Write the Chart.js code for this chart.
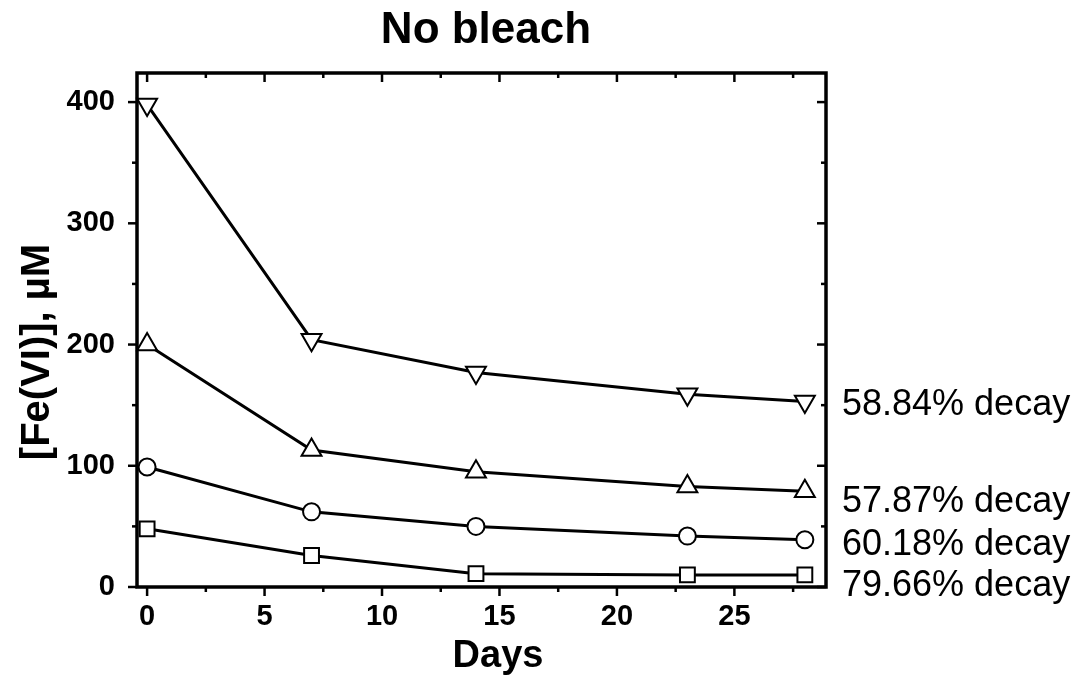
<!DOCTYPE html>
<html>
<head>
<meta charset="utf-8">
<script src="https://cdn.jsdelivr.net/npm/chart.js@4/dist/chart.umd.min.js"></script>
<style>
  html, body { margin: 0; padding: 0; background: #fff; }
  #wrap { width: 1083px; height: 683px; }
</style>
</head>
<body>
<div id="wrap"><canvas id="grafico"></canvas></div>
<script>
// dados
const dias = [0, 7, 14, 23, 28];
const serie400 = [398, 204, 177, 159, 153];
const serie200 = [200, 113, 95, 83, 79];
const serie100 = [99, 62, 50, 42, 39];
const serie50 = [48, 26, 11, 10, 10];
const rotulosDecaimento = ["58.84% decay", "57.87% decay", "60.18% decay", "79.66% decay"];
const ticksX = [0, 5, 10, 15, 20, 25];
const ticksY = [0, 100, 200, 300, 400];
const minorX = [2.5, 7.5, 12.5, 17.5, 22.5, 27.5];
const minorY = [50, 150, 250, 350];

const FAMILIA = '"Liberation Sans", Arial, sans-serif';
const pares = (ys) => dias.map((d, i) => ({ x: d, y: ys[i] }));

function serie(dados, forma, raio, rot) {
  return {
    data: pares(dados),
    borderColor: '#000',
    borderWidth: 3,
    pointStyle: forma,
    pointRadius: raio,
    pointRotation: rot || 0,
    pointBackgroundColor: '#fff',
    pointBorderColor: '#000',
    pointBorderWidth: 2,
    tension: 0,
    clip: false
  };
}

// moldura + ticks estilo Origin, textos (título, eixos, rótulos da direita)
const moldura = {
  id: 'moldura',
  afterDraw(chart) {
    const { ctx, chartArea: a, scales: { x, y } } = chart;
    ctx.save();
    ctx.strokeStyle = '#000';
    ctx.lineWidth = 3.5;
    ctx.strokeRect(a.left, a.top, a.right - a.left, a.bottom - a.top);

    ctx.lineWidth = 2.5;
    const tick = (x1, y1, x2, y2) => { ctx.beginPath(); ctx.moveTo(x1, y1); ctx.lineTo(x2, y2); ctx.stroke(); };
    ticksX.forEach(v => { const px = x.getPixelForValue(v); tick(px, a.bottom, px, a.bottom + 9); tick(px, a.top, px, a.top + 9); });
    minorX.forEach(v => { const px = x.getPixelForValue(v); tick(px, a.bottom, px, a.bottom + 5); tick(px, a.top, px, a.top + 5); });
    ticksY.forEach(v => { const py = y.getPixelForValue(v); tick(a.left, py, a.left - 9, py); tick(a.right, py, a.right - 9, py); });
    minorY.forEach(v => { const py = y.getPixelForValue(v); tick(a.left, py, a.left - 5, py); tick(a.right, py, a.right - 5, py); });

    ctx.fillStyle = '#000';
    ctx.textBaseline = 'alphabetic';

    // título
    ctx.font = 'bold 44px ' + FAMILIA;
    ctx.textAlign = 'center';
    ctx.fillText('No bleach', 486, 43);

    // título do eixo X
    ctx.font = 'bold 38px ' + FAMILIA;
    ctx.fillText('Days', 498, 667);

    // rótulos de decaimento
    ctx.font = '36px ' + FAMILIA;
    ctx.textAlign = 'left';
    const baseY = [415, 512, 555, 596];
    rotulosDecaimento.forEach((t, i) => ctx.fillText(t, 842, baseY[i]));

    // título do eixo Y
    ctx.translate(38, 352);
    ctx.rotate(-Math.PI / 2);
    ctx.font = 'bold 40px ' + FAMILIA;
    ctx.textAlign = 'center';
    ctx.textBaseline = 'middle';
    ctx.fillText('[Fe(VI)], µM', 0, 0);
    ctx.restore();
  }
};

const fonteTick = { family: FAMILIA, size: 29, weight: 'bold' };

new Chart(document.getElementById('grafico'), {
  type: 'line',
  data: {
    datasets: [
      serie(serie400, 'triangle', 11.5, 180),
      serie(serie200, 'triangle', 11.5),
      serie(serie100, 'circle', 8.5),
      serie(serie50, 'rect', 10.5)
    ]
  },
  options: {
    responsive: true,
    maintainAspectRatio: false,
    animation: false,
    layout: { padding: { left: 0, right: 257, top: 73, bottom: 0 } },
    plugins: {
      legend: { display: false },
      tooltip: { enabled: false },
      title: { display: false }
    },
    scales: {
      x: {
        type: 'linear',
        min: -0.43,
        max: 28.9,
        afterBuildTicks: s => { s.ticks = ticksX.map(v => ({ value: v })); },
        afterFit: s => { s.height = 96; },
        grid: { display: false },
        border: { display: false },
        ticks: { color: '#000', font: fonteTick, padding: 5, maxRotation: 0 }
      },
      y: {
        min: 0,
        max: 424,
        afterBuildTicks: s => { s.ticks = ticksY.map(v => ({ value: v })); },
        afterFit: s => { s.width = 137; },
        grid: { display: false },
        border: { display: false },
        ticks: { color: '#000', font: fonteTick, padding: 14 }
      }
    }
  },
  plugins: [moldura]
});
</script>
</body>
</html>
